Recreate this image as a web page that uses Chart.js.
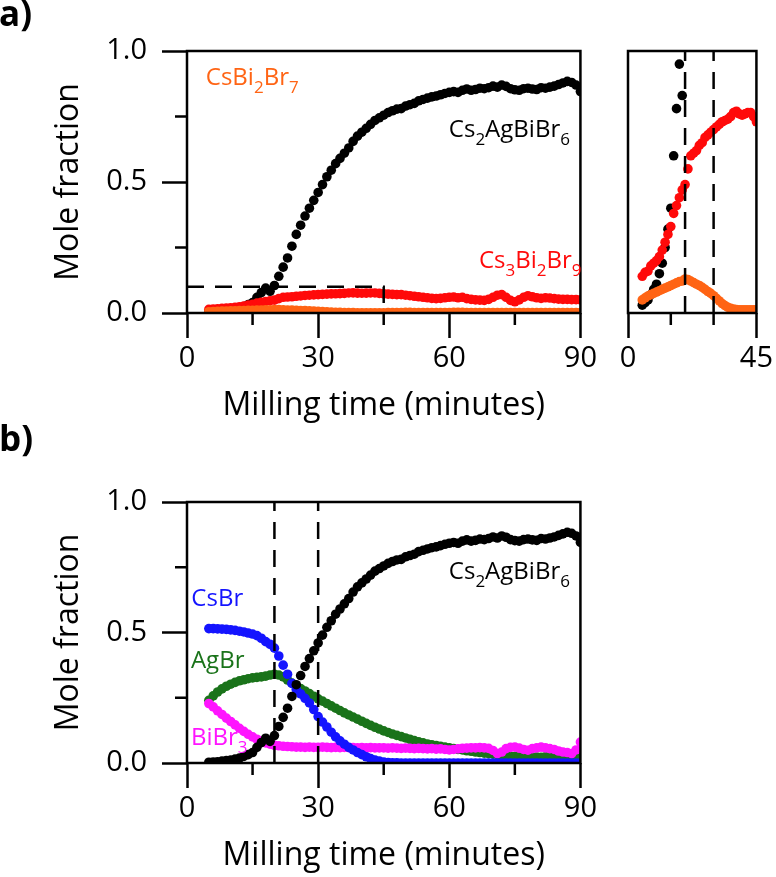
<!doctype html>
<html>

<head>
	<meta charset="utf-8">
	<title>Mole fraction vs milling time</title>
	<script src="https://cdn.jsdelivr.net/npm/chart.js@4.4.1/dist/chart.umd.min.js"></script>
	<style>
		body {
			margin: 0;
			background: #fff;
		}

		.wrap {
			position: relative;
			width: 776px;
			height: 877px;
			overflow: hidden;
		}

		canvas {
			position: absolute;
		}
	</style>
</head>

<body>
	<div class="wrap">
		<canvas id="panelA" width="600" height="440" style="left:0;top:0"></canvas>
		<canvas id="panelInset" width="176" height="440" style="left:600px;top:0"></canvas>
		<canvas id="panelB" width="600" height="457" style="left:0;top:420px"></canvas>
	</div>
	<script>
		// milling time (minutes)
		var time = [5, 6, 7, 8, 9, 10, 11, 12, 13, 14, 15, 16, 17, 18, 19, 20, 21, 22, 23, 24,
			25, 26, 27, 28, 29, 30, 31, 32, 33, 34, 35, 36, 37, 38, 39, 40, 41, 42, 43, 44,
			45, 46, 47, 48, 49, 50, 51, 52, 53, 54, 55, 56, 57, 58, 59, 60, 61, 62, 63, 64,
			65, 66, 67, 68, 69, 70, 71, 72, 73, 74, 75, 76, 77, 78, 79, 80, 81, 82, 83, 84,
			85, 86, 87, 88, 89, 90];

		var cs2AgBiBr6 = [0.003, 0.004, 0.005, 0.007, 0.009, 0.011, 0.015, 0.019, 0.025, 0.032,
			0.040, 0.060, 0.078, 0.095, 0.083, 0.105, 0.140, 0.175, 0.210, 0.255,
			0.300, 0.335, 0.370, 0.400, 0.430, 0.460, 0.490, 0.520, 0.545, 0.570,
			0.590, 0.610, 0.630, 0.655, 0.675, 0.690, 0.705, 0.720, 0.735, 0.745,
			0.755, 0.765, 0.772, 0.778, 0.780, 0.790, 0.795, 0.800, 0.810, 0.815,
			0.820, 0.825, 0.828, 0.833, 0.838, 0.842, 0.845, 0.842, 0.850, 0.855,
			0.850, 0.853, 0.858, 0.856, 0.860, 0.866, 0.862, 0.870, 0.865, 0.856,
			0.852, 0.850, 0.856, 0.858, 0.855, 0.853, 0.860, 0.858, 0.862, 0.866,
			0.872, 0.878, 0.884, 0.880, 0.870, 0.845];

		var cs3Bi2Br9 = [0.014, 0.0155, 0.016, 0.018, 0.019, 0.020, 0.0215, 0.024, 0.027, 0.030,
			0.033, 0.038, 0.041, 0.044, 0.047, 0.049, 0.055, 0.060, 0.061, 0.062,
			0.064, 0.065, 0.067, 0.068, 0.069, 0.070, 0.071, 0.072, 0.073, 0.0735,
			0.074, 0.075, 0.0765, 0.077, 0.076, 0.0755, 0.076, 0.0765, 0.0765, 0.075,
			0.073, 0.072, 0.071, 0.070, 0.070, 0.068, 0.066, 0.064, 0.062, 0.060,
			0.058, 0.056, 0.055, 0.056, 0.058, 0.060, 0.061, 0.058, 0.060, 0.055,
			0.052, 0.050, 0.049, 0.048, 0.052, 0.060, 0.068, 0.070, 0.060, 0.048,
			0.043, 0.050, 0.060, 0.066, 0.062, 0.058, 0.056, 0.058, 0.057, 0.055,
			0.053, 0.052, 0.052, 0.051, 0.051, 0.050];

		var csBi2Br7 = [0.005, 0.0058, 0.0065, 0.007, 0.0075, 0.008, 0.0085, 0.009, 0.0095, 0.010,
			0.0105, 0.011, 0.0115, 0.012, 0.0122, 0.013, 0.0128, 0.0122, 0.0116, 0.011,
			0.0105, 0.0098, 0.009, 0.0082, 0.0075, 0.0066, 0.0056, 0.0046, 0.0036, 0.0028,
			0.0022, 0.0018, 0.0015, 0.0013, 0.0012, 0.0012, 0.0012, 0.0012, 0.0012, 0.0012,
			0.0012, 0.0013, 0.0015, 0.0018, 0.002, 0.0022, 0.0022, 0.002, 0.0018, 0.0017,
			0.0016, 0.0015, 0.0015, 0.0016, 0.0018, 0.002, 0.0022, 0.0024, 0.0022, 0.002,
			0.0018, 0.0016, 0.0015, 0.0015, 0.0016, 0.0018, 0.002, 0.0018, 0.0016, 0.0015,
			0.0015, 0.0016, 0.0017, 0.0018, 0.0018, 0.0017, 0.0016, 0.0016, 0.0017, 0.0018,
			0.0018, 0.0017, 0.0016, 0.0016, 0.0017, 0.0018];

		var csBr = [0.515, 0.515, 0.514, 0.513, 0.512, 0.510, 0.508, 0.505, 0.502, 0.498,
			0.494, 0.488, 0.478, 0.465, 0.455, 0.440, 0.410, 0.375, 0.340, 0.305,
			0.282, 0.265, 0.248, 0.230, 0.205, 0.178, 0.157, 0.138, 0.118, 0.100,
			0.085, 0.072, 0.060, 0.050, 0.040, 0.032, 0.024, 0.017, 0.011, 0.007,
			0.004, 0.002, 0.001, 0.001, 0, 0, 0, 0, 0, 0,
			0, 0, 0, 0, 0, 0, 0, 0, 0, 0,
			0, 0, 0, 0, 0, 0, 0, 0, 0, 0,
			0, 0, 0, 0, 0, 0, 0, 0, 0, 0,
			0, 0, 0, 0, 0, 0];

		var agBr = [0.240, 0.257, 0.272, 0.284, 0.294, 0.302, 0.309, 0.315, 0.319, 0.323,
			0.326, 0.328, 0.330, 0.333, 0.337, 0.340, 0.337, 0.330, 0.318, 0.306,
			0.295, 0.285, 0.276, 0.266, 0.256, 0.246, 0.237, 0.228, 0.219, 0.210,
			0.201, 0.192, 0.184, 0.176, 0.168, 0.160, 0.152, 0.144, 0.137, 0.130,
			0.123, 0.117, 0.111, 0.106, 0.101, 0.096, 0.091, 0.086, 0.081, 0.077,
			0.073, 0.070, 0.067, 0.064, 0.061, 0.058, 0.055, 0.052, 0.050, 0.047,
			0.045, 0.042, 0.040, 0.038, 0.036, 0.034, 0.032, 0.030, 0.028, 0.026,
			0.025, 0.024, 0.023, 0.024, 0.022, 0.023, 0.022, 0.024, 0.022, 0.023,
			0.024, 0.022, 0.025, 0.024, 0.027, 0.030];

		var biBr3 = [0.228, 0.215, 0.200, 0.186, 0.172, 0.159, 0.146, 0.133, 0.121, 0.110,
			0.100, 0.091, 0.083, 0.077, 0.072, 0.068, 0.066, 0.064, 0.063, 0.062,
			0.061, 0.061, 0.060, 0.061, 0.060, 0.060, 0.061, 0.060, 0.059, 0.060,
			0.059, 0.060, 0.059, 0.059, 0.058, 0.059, 0.058, 0.059, 0.058, 0.058,
			0.058, 0.057, 0.058, 0.057, 0.056, 0.057, 0.056, 0.055, 0.056, 0.055,
			0.054, 0.055, 0.053, 0.054, 0.052, 0.050, 0.052, 0.054, 0.056, 0.057,
			0.058, 0.058, 0.059, 0.058, 0.056, 0.048, 0.036, 0.042, 0.055, 0.060,
			0.061, 0.057, 0.052, 0.049, 0.055, 0.058, 0.061, 0.058, 0.055, 0.052,
			0.046, 0.042, 0.040, 0.036, 0.050, 0.080];

		// dashed guides: zoomed region in a), stage boundaries in inset and b)
		var zoomBox = [{ x: 0, y: 0.1 }, { x: 45, y: 0.1 }, { x: 45, y: 0 }];
		var stageTimes = [20, 30];

		// minor ticks
		var xMinorMain = [15, 45, 75];
		var xMinorInset = [15, 30];
		var yMinor = [0.25, 0.75];

		var FONT = "'Open Sans', sans-serif";
		Chart.defaults.font.family = FONT;
		Chart.defaults.color = '#000';

		var colors = {
			black: '#000000',
			red: '#ff0a0a',
			orange: '#ff6414',
			blue: '#1414ff',
			green: '#1a731a',
			magenta: '#ff14ff'
		};

		function pts(ys) {
			return time.map(function (t, i) {
				return { x: t, y: ys[i] };
			});
		}

		function dots(ys, color, order) {
			return {
				data: pts(ys),
				backgroundColor: color,
				borderColor: color,
				pointRadius: 4.8,
				pointHoverRadius: 4.8,
				pointBorderWidth: 0,
				showLine: false,
				clip: 0,
				order: order
			};
		}

		function dash(p) {
			return {
				data: p,
				showLine: true,
				borderColor: '#000',
				borderWidth: 2.5,
				borderDash: [17, 11],
				pointRadius: 0,
				fill: false,
				clip: false,
				order: -1
			};
		}

		function vline(x, top) {
			return dash([{ x: x, y: 0 }, { x: x, y: top }]);
		}

		var tickGrid = {
			drawOnChartArea: false,
			drawTicks: true,
			tickLength: 25,
			tickWidth: 2.5,
			tickColor: '#000'
		};

		function xAxis(max, step, title) {
			return {
				type: 'linear',
				min: 0,
				max: max,
				ticks: { stepSize: step, autoSkip: false, maxRotation: 0, padding: 3, font: { size: 29 } },
				grid: tickGrid,
				border: { display: false },
				title: { display: !!title, text: title, font: { size: 32 }, padding: 0 },
				afterFit: function (s) { s.height = 112; }
			};
		}

		function yAxis(max, show) {
			return {
				type: 'linear',
				min: 0,
				max: max,
				display: show,
				ticks: {
					stepSize: 0.5, padding: 15, font: { size: 29 },
					callback: function (v) { return v.toFixed(1); }
				},
				grid: tickGrid,
				border: { display: false },
				title: { display: true, text: 'Mole fraction', font: { size: 32 }, padding: 0 },
				afterFit: function (s) { s.width = show ? 137 : 0; }
			};
		}

		// frame, minor ticks, panel letter and curve labels
		var decor = {
			id: 'decor',
			afterDatasetsDraw: function (chart, args, o) {
				var ctx = chart.ctx, a = chart.chartArea, sx = chart.scales.x, sy = chart.scales.y;
				ctx.save();
				ctx.strokeStyle = '#000';
				ctx.lineWidth = 2.5;
				ctx.strokeRect(a.left, a.top, a.right - a.left, a.bottom - a.top);
				ctx.beginPath();
				(o.xMinor || []).forEach(function (v) {
					var px = sx.getPixelForValue(v);
					ctx.moveTo(px, a.bottom);
					ctx.lineTo(px, a.bottom + 12);
				});
				(o.yMinor || []).forEach(function (v) {
					var py = sy.getPixelForValue(v);
					ctx.moveTo(a.left, py);
					ctx.lineTo(a.left - 12, py);
				});
				ctx.stroke();
				ctx.textAlign = 'left';
				ctx.textBaseline = 'alphabetic';
				if (o.letter) {
					ctx.fillStyle = '#000';
					ctx.font = 'bold 35px ' + FONT;
					ctx.fillText(o.letter.text, o.letter.x, o.letter.y);
				}
				(o.notes || []).forEach(function (n) {
					var x = sx.getPixelForValue(n.x), y = sy.getPixelForValue(n.y);
					ctx.fillStyle = n.color;
					n.parts.forEach(function (p) {
						var sub = /^\d$/.test(p);
						ctx.font = (sub ? 17 : 24) + 'px ' + FONT;
						ctx.fillText(p, x, sub ? y + 8 : y);
						x += ctx.measureText(p).width;
					});
				});
				ctx.restore();
			}
		};

		function base(padding, decorOpts) {
			return {
				responsive: false,
				animation: false,
				devicePixelRatio: 1,
				layout: { padding: padding },
				events: [],
				plugins: {
					legend: { display: false },
					tooltip: { enabled: false },
					decor: decorOpts
				}
			};
		}

		var optsA = base({ left: 50, top: 51, right: 18, bottom: 15 }, {
			xMinor: xMinorMain,
			yMinor: yMinor,
			letter: { text: 'a)', x: -1, y: 26 },
			notes: [
				{ x: 4.3, y: 0.87, color: colors.orange, parts: ['CsBi', '2', 'Br', '7'] },
				{ x: 59.9, y: 0.672, color: colors.black, parts: ['Cs', '2', 'AgBiBr', '6'] },
				{ x: 66.8, y: 0.172, color: colors.red, parts: ['Cs', '3', 'Bi', '2', 'Br', '9'] }
			]
		});
		optsA.scales = { x: xAxis(90, 30, 'Milling time (minutes)'), y: yAxis(1, true) };

		var optsInset = base({ left: 28, top: 51, right: 16, bottom: 15 }, { xMinor: xMinorInset });
		optsInset.scales = { x: xAxis(45, 45, ''), y: yAxis(0.1, false) };

		var optsB = base({ left: 50, top: 82, right: 18, bottom: 2 }, {
			xMinor: xMinorMain,
			yMinor: yMinor,
			letter: { text: 'b)', x: -1, y: 31 },
			notes: [
				{ x: 59.9, y: 0.705, color: colors.black, parts: ['Cs', '2', 'AgBiBr', '6'] },
				{ x: 1.0, y: 0.602, color: colors.blue, parts: ['CsBr'] },
				{ x: 0.9, y: 0.364, color: colors.green, parts: ['AgBr'] },
				{ x: 0.9, y: 0.069, color: colors.magenta, parts: ['BiBr', '3'] }
			]
		});
		optsB.scales = { x: xAxis(90, 30, 'Milling time (minutes)'), y: yAxis(1, true) };

		window.onload = function () {
			new Chart(document.getElementById('panelA'), {
				type: 'scatter',
				data: {
					datasets: [
						dash(zoomBox),
						dots(csBi2Br7, colors.orange, 0),
						dots(cs3Bi2Br9, colors.red, 1),
						dots(cs2AgBiBr6, colors.black, 2)
					]
				},
				options: optsA,
				plugins: [decor]
			});

			new Chart(document.getElementById('panelInset'), {
				type: 'scatter',
				data: {
					datasets: [
						vline(stageTimes[0], 0.1),
						vline(stageTimes[1], 0.1),
						dots(csBi2Br7, colors.orange, 0),
						dots(cs3Bi2Br9, colors.red, 1),
						dots(cs2AgBiBr6, colors.black, 2)
					]
				},
				options: optsInset,
				plugins: [decor]
			});

			new Chart(document.getElementById('panelB'), {
				type: 'scatter',
				data: {
					datasets: [
						vline(stageTimes[0], 1),
						vline(stageTimes[1], 1),
						dots(cs2AgBiBr6, colors.black, 0),
						dots(csBr, colors.blue, 1),
						dots(biBr3, colors.magenta, 2),
						dots(agBr, colors.green, 3)
					]
				},
				options: optsB,
				plugins: [decor]
			});
		};
	</script>
</body>

</html>
